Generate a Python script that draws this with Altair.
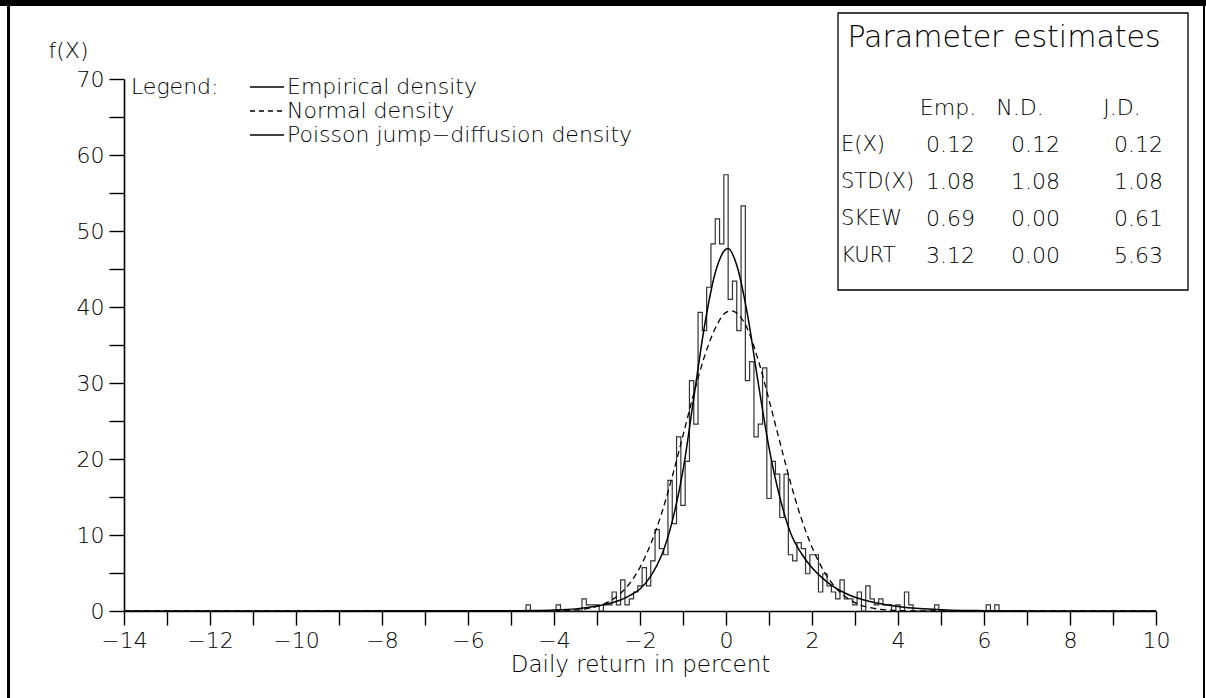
import altair as alt
import pandas as pd

# ---------------- data ----------------
# Empirical density: histogram with bins of width 0.1 centred on -4.7, -4.6, ..., 6.3
hist_first_center = -4.7
hist_bin_width = 0.1
hist_heights = [
    0.0, 0.8, 0.0, 0.0, 0.0, 0.0, 0.0, 0.0, 0.8, 0.0,      # -4.7 .. -3.8
    0.0, 0.0, 0.0, 0.0, 1.6, 0.8, 0.8, 0.8, 0.0, 0.8,      # -3.7 .. -2.8
    0.8, 2.5, 0.8, 4.1, 0.8, 1.6, 2.5, 3.3, 5.7, 3.3,      # -2.7 .. -1.8
    6.6, 10.7, 8.2, 7.4, 17.2, 11.5, 22.9, 13.9, 19.7, 30.3,  # -1.7 .. -0.8
    24.6, 39.3, 36.9, 42.6, 48.3, 51.6, 48.3, 57.4, 41.0, 43.4,  # -0.7 .. 0.2
    36.9, 53.3, 30.3, 32.8, 22.9, 24.6, 32.0, 14.8, 19.7, 18.0,  # 0.3 .. 1.2
    12.3, 18.0, 7.4, 6.6, 9.0, 8.2, 4.9, 7.4, 7.4, 2.5,    # 1.3 .. 2.2
    4.9, 3.3, 2.5, 1.6, 4.1, 1.6, 1.6, 0.8, 2.5, 0.0,      # 2.3 .. 3.2
    3.3, 1.6, 0.8, 1.6, 0.8, 0.8, 0.0, 0.8, 0.0, 2.5,      # 3.3 .. 4.2
    0.8, 0.0, 0.0, 0.0, 0.0, 0.0, 0.8, 0.0, 0.0, 0.0,      # 4.3 .. 5.2
    0.0, 0.0, 0.0, 0.0, 0.0, 0.0, 0.0, 0.0, 0.8, 0.0,      # 5.3 .. 6.2
    0.8,                                                   # 6.3
]

# Normal density (dashed)
norm_x = [-14, -5, -4.5, -4, -3.5, -3, -2.75, -2.5, -2.25, -2, -1.75, -1.5, -1.25, -1,
          -0.75, -0.5, -0.25, 0, 0.12, 0.25, 0.5, 0.75, 1, 1.25, 1.5, 1.75, 2, 2.25,
          2.5, 2.75, 3, 3.5, 4, 4.5, 5, 10]
norm_y = [0.0, 0.0, 0.0, 0.03, 0.14, 0.61, 1.16, 2.09, 3.55, 5.74, 8.83, 12.8, 17.7, 23.1,
          28.6, 33.5, 37.2, 39.3, 39.5, 39.2, 37.1, 33.0, 27.8, 22.3, 16.9, 12.2, 8.4, 5.5,
          3.4, 2.0, 1.1, 0.29, 0.06, 0.01, 0.0, 0.0]

# Poisson jump-diffusion density (solid)
jd_x = [-14, -5, -4.5, -4, -3.5, -3, -2.75, -2.5, -2.25, -2, -1.75, -1.5, -1.25, -1,
        -0.75, -0.5, -0.25, 0, 0.05, 0.25, 0.5, 0.75, 1, 1.25, 1.5, 1.75, 2, 2.25,
        2.5, 2.75, 3, 3.5, 4, 4.5, 5, 5.5, 6, 7, 10]
jd_y = [0.0, 0.02, 0.05, 0.12, 0.28, 0.65, 0.95, 1.35, 2.0, 2.9, 4.6, 7.3, 11.8, 18.5,
        28.0, 37.5, 44.5, 47.6, 47.7, 45.5, 39.0, 30.0, 21.5, 15.0, 10.3, 7.6, 5.7, 4.3,
        3.2, 2.4, 1.8, 1.05, 0.6, 0.32, 0.17, 0.08, 0.04, 0.01, 0.0]

x_ticks = list(range(-14, 11))
y_ticks = list(range(0, 71, 5))

legend_title = "Legend:"
legend_labels = ["Empirical density", "Normal density", "Poisson jump\u2212diffusion density"]

param_title = "Parameter estimates"
param_cols = ["Emp.", "N.D.", "J.D."]
param_rows = ["E(X)", "STD(X)", "SKEW", "KURT"]
emp_vals = [0.12, 1.08, 0.69, 3.12]
nd_vals = [0.12, 1.08, 0.00, 0.00]
jd_vals = [0.12, 1.08, 0.61, 5.63]

# ---------------- build tables ----------------
n = len(hist_heights)
edges = [hist_first_center - hist_bin_width / 2 + i * hist_bin_width for i in range(n + 1)]
hx, hy = [edges[0]], [0.0]
for i in range(n):
    hx.append(edges[i])
    hy.append(hist_heights[i])
hx.append(edges[n])
hy.append(0.0)
hist_df = pd.DataFrame({"x": hx, "y": hy, "i": list(range(len(hx)))})
norm_df = pd.DataFrame({"x": norm_x, "y": norm_y})
jd_df = pd.DataFrame({"x": jd_x, "y": jd_y})
one = pd.DataFrame({"k": [0]})

# ---------------- styling ----------------
FONT = "DejaVu Sans"
FW = 200
W, H = 1032, 532
OX, OY = 124, 79          # plot origin in page pixels


def X(a):
    return a - OX


def Y(a):
    return a - OY


x_enc = alt.X(
    "x:Q",
    scale=alt.Scale(domain=[-14, 10], nice=False, zero=False),
    axis=alt.Axis(
        values=x_ticks,
        labelExpr="datum.value % 2 === 0 ? datum.label : ''",
        grid=False, tickSize=14, tickWidth=1.4, tickColor="black",
        domainColor="black", domainWidth=1.6,
        labelFont=FONT, labelFontSize=22, labelFontWeight=FW, labelColor="black",
        labelPadding=5, labelOverlap=False, labelFlush=False,
        title="Daily return in percent", titleFont=FONT, titleFontSize=23,
        titleFontWeight=FW, titleColor="black", titleY=53, titleBaseline="middle",
    ),
)
y_enc = alt.Y(
    "y:Q",
    scale=alt.Scale(domain=[0, 70], nice=False, zero=True),
    axis=alt.Axis(
        values=y_ticks,
        labelExpr="datum.value % 10 === 0 ? datum.label : ''",
        grid=False, tickSize=15, tickWidth=1.4, tickColor="black",
        domainColor="black", domainWidth=1.6,
        labelFont=FONT, labelFontSize=22, labelFontWeight=FW, labelColor="black",
        labelPadding=5, labelOverlap=False, labelFlush=False,
        title="f(X)", titleFont=FONT, titleFontSize=22, titleFontWeight=FW,
        titleColor="black", titleAngle=0, titleX=-56, titleY=-29,
        titleAlign="center", titleBaseline="middle",
    ),
)

hist = alt.Chart(hist_df).mark_line(
    interpolate="step-after", color="#333333", strokeWidth=1.2
).encode(x=x_enc, y=y_enc, order="i:Q")

normal = alt.Chart(norm_df).mark_line(
    interpolate="monotone", color="black", strokeWidth=1.3, strokeDash=[6, 4]
).encode(x=x_enc, y=y_enc)

jd = alt.Chart(jd_df).mark_line(
    interpolate="monotone", color="black", strokeWidth=1.5
).encode(x=x_enc, y=y_enc)


def txt(s, x, y, size, align="left"):
    return alt.Chart(one).mark_text(
        text=s, align=align, baseline="middle", font=FONT, fontSize=size,
        fontWeight=FW, color="black"
    ).encode(x=alt.value(x), y=alt.value(y))


def seg(x1, x2, y1, y2, width=1.3, dash=None):
    kw = dict(color="black", strokeWidth=width)
    if dash:
        kw["strokeDash"] = dash
    return alt.Chart(one).mark_rule(**kw).encode(
        x=alt.value(x1), x2=alt.value(x2), y=alt.value(y1), y2=alt.value(y2)
    )


layers = [hist, normal, jd]

# legend block (top-left)
leg_y0, leg_dy = Y(87), 24
layers.append(txt(legend_title, X(131), leg_y0, 22))
dashes = [None, [5, 4], None]
for k, lab in enumerate(legend_labels):
    yy = leg_y0 + k * leg_dy
    layers.append(seg(X(250), X(284), yy, yy, width=1.3, dash=dashes[k]))
    layers.append(txt(lab, X(287), yy, 22))

# parameter estimates box (top-right)
box = alt.Chart(one).mark_rect(
    fill="white", stroke="black", strokeWidth=1.3
).encode(x=alt.value(X(838)), x2=alt.value(X(1188)), y=alt.value(Y(13)), y2=alt.value(Y(290)))
layers.append(box)
layers.append(txt(param_title, X(1004), Y(38), 30, align="center"))
col_right = [X(975), X(1060), X(1163)]
head_center = [X(948), X(1020), X(1122)]
for c, h in enumerate(param_cols):
    layers.append(txt(h, head_center[c], Y(108), 22, align="center"))
row_y0, row_dy = Y(145), 37
for r, lab in enumerate(param_rows):
    yy = row_y0 + r * row_dy
    layers.append(txt(lab, X(841), yy, 21))
    for c, vals in enumerate([emp_vals, nd_vals, jd_vals]):
        layers.append(txt(f"{vals[r]:.2f}", col_right[c], yy, 22, align="right"))

# outer frame
layers.append(seg(X(0), X(1206), Y(3), Y(3), width=6))
layers.append(seg(X(8.5), X(8.5), Y(0), Y(698), width=3))
layers.append(seg(X(1204), X(1204), Y(0), Y(698), width=2))

chart = alt.layer(*layers).properties(
    width=W, height=H,
    autosize=alt.AutoSizeParams(type="none"),
    padding={"left": OX, "top": OY, "right": 1206 - OX - W, "bottom": 698 - OY - H},
    background="white",
).configure_view(strokeWidth=0)

chart.save("out.html", embed_options={"renderer": "svg", "actions": False})
